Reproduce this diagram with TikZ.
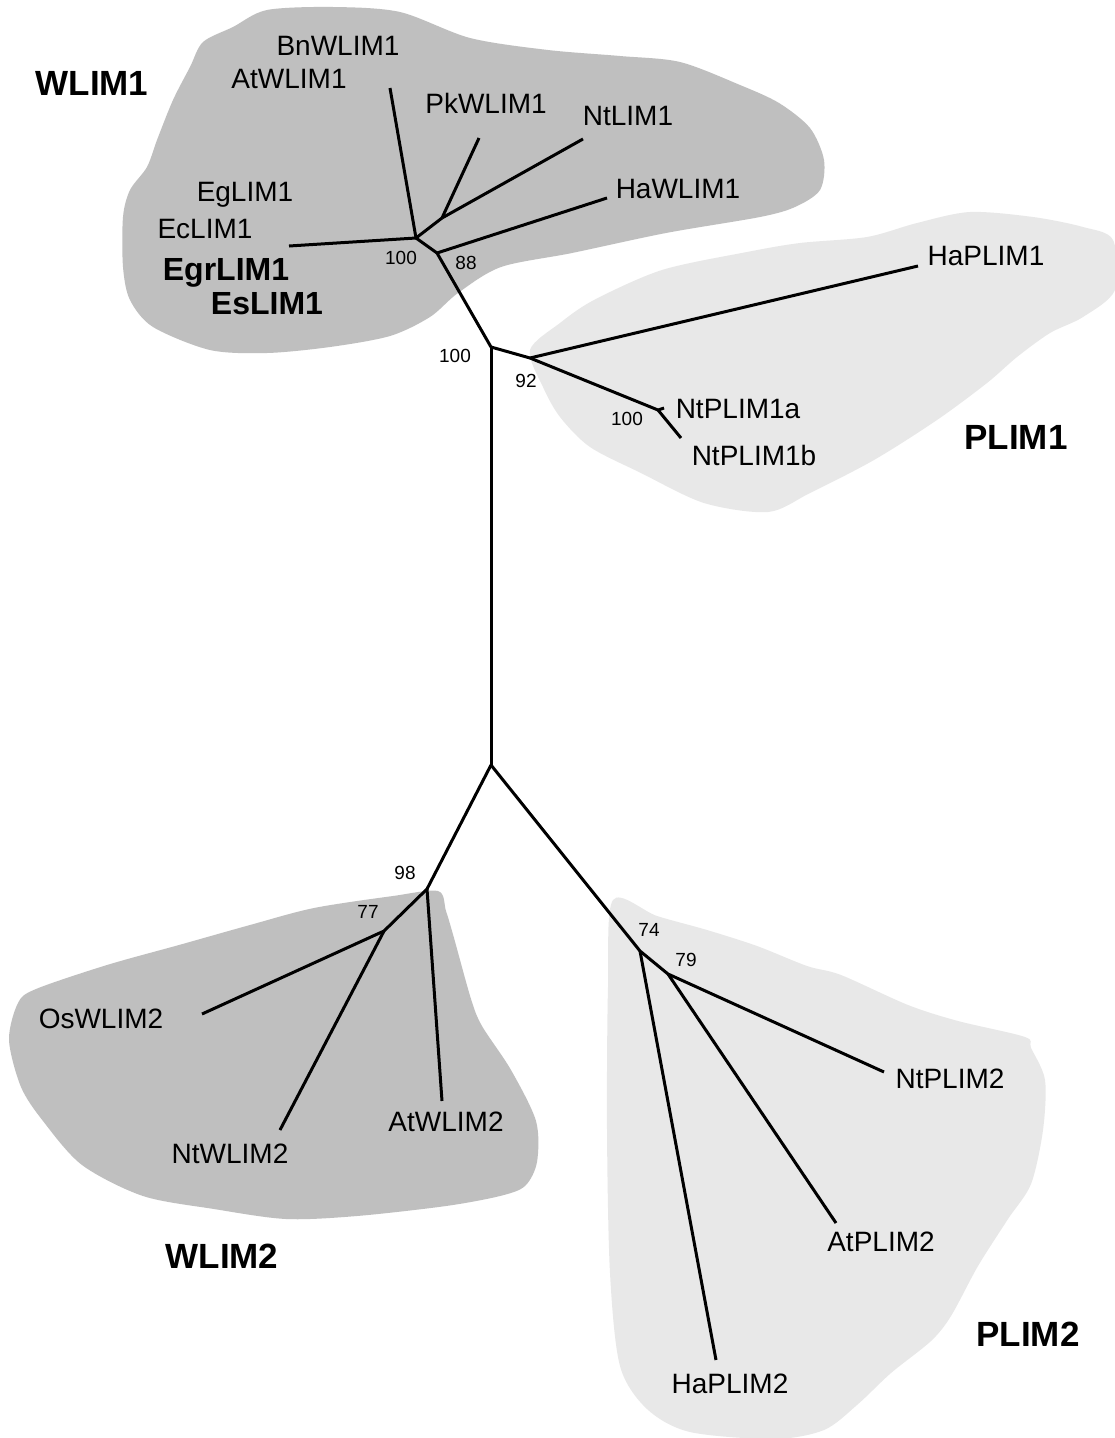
\documentclass[tikz,border=0pt]{standalone}
\usepackage{fontspec}
\setmainfont{Liberation Sans}
\definecolor{darkblob}{gray}{0.75}
\definecolor{lightblob}{gray}{0.91}
\begin{document}
\begin{tikzpicture}[x=1pt,y=-1pt,
  branch/.style={line width=3pt, line join=round},
  leaf/.style={font=\fontsize{28}{30}\selectfont, inner sep=0pt, anchor=base},
  bleaf/.style={font=\bfseries\fontsize{32}{34}\selectfont, inner sep=0pt, anchor=base},
  group/.style={font=\bfseries\fontsize{35}{37}\selectfont, inner sep=0pt, anchor=base},
  boot/.style={font=\fontsize{19}{21}\selectfont, inner sep=0pt, anchor=base}]
\useasboundingbox (0,0) rectangle (1115,1438);
\fill[white] (0,0) rectangle (1115,1438);

% ---- clade backgrounds ----
\fill[darkblob] plot[smooth cycle, tension=0.5] coordinates {
  (233,27) (267,10) (333,7) (400,12) (470,38) (548,50) (620,56) (680,62)
  (740,85) (779,103) (810,128) (824,160) (820,190) (795,207)
  (760,217) (666,233) (572,253) (501,267) (458,293) (430,317) (390,336)
  (330,347) (267,353) (210,350) (153,327) (130,300) (123,267) (123,217)
  (130,190) (147,167) (157,140) (173,100) (190,67) (203,42)};
\fill[lightblob] plot[smooth cycle, tension=0.5] coordinates {
  (530,350) (560,323) (594,300) (662,270) (747,252) (800,243) (867,237)
  (917,223) (970,212) (1033,217) (1083,227) (1113,240) (1115,290)
  (1083,317) (1050,333) (1017,357) (987,383) (937,420) (874,460)
  (810,493) (768,512) (704,503) (641,473) (590,447) (560,417) (543,387)};
\fill[darkblob] plot[smooth cycle, tension=0.5] coordinates {
  (438,891) (446,911) (454,938) (471,999) (482,1026) (511,1070) (536,1121)
  (537,1162) (525,1186) (500,1196) (446,1206) (357,1216) (286,1219)
  (214,1209) (143,1196) (82,1165) (43,1121) (21,1087) (9,1040) (18,1003)
  (36,989) (107,965) (179,945) (250,925) (314,908) (393,896)};
\fill[lightblob] plot[smooth cycle, tension=0.5] coordinates {
  (613,900) (657,916) (707,930) (757,946) (807,966) (841,975) (908,1005)
  (958,1021) (1025,1037) (1031,1048) (1045,1080) (1043,1130) (1031,1184)
  (1008,1219) (978,1266) (951,1316) (931,1341) (891,1373) (857,1405)
  (824,1430) (774,1439) (690,1432) (647,1409) (620,1366) (610,1273)
  (607,1130) (608,987)};

% ---- internal nodes and branch tips ----
\coordinate (A) at (416,238);
\coordinate (B) at (437,253);
\coordinate (C) at (442,218);
\coordinate (R) at (491,347);
\coordinate (D) at (530,358);
\coordinate (E) at (658,410);
\coordinate (H) at (491,765);
\coordinate (F) at (427,889);
\coordinate (G) at (384,931);
\coordinate (I) at (640,951);
\coordinate (J) at (668,974);

\coordinate (tEuc) at (289,246);
\coordinate (tBn) at (390,88);
\coordinate (tPk) at (479,138);
\coordinate (tNt) at (583,139);
\coordinate (tHaW) at (607,198);
\coordinate (tHaP) at (918,266);
\coordinate (tNtPa) at (664,408);
\coordinate (tNtPb) at (681,438);
\coordinate (tOs) at (202,1014);
\coordinate (tNtW) at (280,1130);
\coordinate (tAtW) at (442,1101);
\coordinate (tNtP2) at (884,1072);
\coordinate (tAtP2) at (836,1223);
\coordinate (tHaP2) at (716,1360);

% ---- branches ----
\draw[branch] (tEuc) -- (A);
\draw[branch] (tBn) -- (A);
\draw[branch] (A) -- (C);
\draw[branch] (C) -- (tPk);
\draw[branch] (C) -- (tNt);
\draw[branch] (A) -- (B) -- (R);
\draw[branch] (B) -- (tHaW);
\draw[branch] (R) -- (D) -- (tHaP);
\draw[branch] (D) -- (E) -- (tNtPa);
\draw[branch] (E) -- (tNtPb);
\draw[branch] (R) -- (H);
\draw[branch] (H) -- (F) -- (G) -- (tOs);
\draw[branch] (G) -- (tNtW);
\draw[branch] (F) -- (tAtW);
\draw[branch] (H) -- (I) -- (J) -- (tNtP2);
\draw[branch] (J) -- (tAtP2);
\draw[branch] (I) -- (tHaP2);

% ---- leaf labels ----
\node[leaf] (BnWLIM1) at (338,55) {BnWLIM1};
\node[leaf] (AtWLIM1) at (289,88) {AtWLIM1};
\node[leaf] (PkWLIM1) at (486,113) {PkWLIM1};
\node[leaf] (NtLIM1) at (628,125) {NtLIM1};
\node[leaf] (HaWLIM1) at (678,198) {HaWLIM1};
\node[leaf] (EgLIM1) at (245,201) {EgLIM1};
\node[leaf] (EcLIM1) at (205,238) {EcLIM1};
\node[bleaf] (EgrLIM1) at (226,280) {EgrLIM1};
\node[bleaf] (EsLIM1) at (267,314) {EsLIM1};
\node[leaf] (HaPLIM1) at (986,265) {HaPLIM1};
\node[leaf] (NtPLIM1a) at (738,418) {NtPLIM1a};
\node[leaf] (NtPLIM1b) at (754,465) {NtPLIM1b};
\node[leaf] (OsWLIM2) at (101,1028) {OsWLIM2};
\node[leaf] (NtWLIM2) at (230,1163) {NtWLIM2};
\node[leaf] (AtWLIM2) at (446,1131) {AtWLIM2};
\node[leaf] (NtPLIM2) at (950,1088) {NtPLIM2};
\node[leaf] (AtPLIM2) at (881,1251) {AtPLIM2};
\node[leaf] (HaPLIM2) at (730,1393) {HaPLIM2};

% ---- group labels ----
\node[group] (gW1) at (92,95) {WLIM1};
\node[group] (gP1) at (1016,449) {PLIM1};
\node[group] (gW2) at (222,1268) {WLIM2};
\node[group] (gP2) at (1028,1346) {PLIM2};

% ---- bootstrap values ----
\node[boot] (bA) at (401,264) {100};
\node[boot] (bB) at (466,269) {88};
\node[boot] (bR) at (455,362) {100};
\node[boot] (bD) at (526,387) {92};
\node[boot] (bE) at (627,425) {100};
\node[boot] (bF) at (405,879) {98};
\node[boot] (bG) at (368,918) {77};
\node[boot] (bI) at (649,936) {74};
\node[boot] (bJ) at (686,966) {79};
\end{tikzpicture}
\end{document}
